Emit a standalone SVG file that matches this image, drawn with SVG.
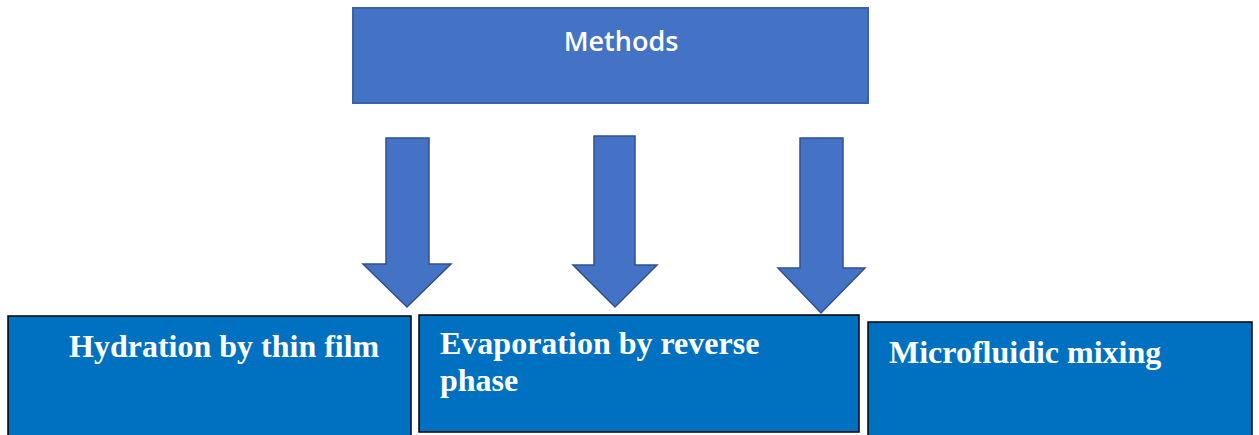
<svg xmlns="http://www.w3.org/2000/svg" width="1259" height="435" viewBox="0 0 1259 435">
  <style>
    .top { fill: #4472C4; stroke: #3A62A8; stroke-width: 2; }
    .arrow { fill: #4472C4; stroke: #2F528F; stroke-width: 1.5; stroke-linejoin: miter; }
    .box { fill: #0070C0; stroke: #000000; stroke-width: 1.5; }
    .lbl { fill: #FFFFFF; font-family: "Liberation Serif", "Times New Roman", serif; font-weight: bold; font-size: 32px; }
    .mlbl { fill: #FFFFFF; font-family: "Open Sans", "Liberation Sans", sans-serif; font-weight: 600; font-size: 27px; }
  </style>
  <rect width="1259" height="435" fill="#FFFFFF"/>
  <g id="node-methods">
    <rect class="top" x="353" y="8" width="515" height="95"/>
    <text class="mlbl" x="621" y="51" text-anchor="middle">Methods</text>
  </g>
  <g id="connectors">
    <path class="arrow" d="M386,138 H429 V264 H451 L407,307 L363,264 H386 Z"/>
    <path class="arrow" d="M594,136 H635 V265 H657 L615,307 L573,265 H594 Z"/>
    <path class="arrow" d="M800,138 H843 V268 H865 L821,313 L778,268 H800 Z"/>
  </g>
  <g id="node-hydration">
    <rect class="box" x="8" y="316" width="403" height="125"/>
    <text class="lbl" x="69" y="357">Hydration by thin film</text>
  </g>
  <g id="node-evaporation">
    <rect class="box" x="419" y="315" width="440" height="117"/>
    <text class="lbl" x="440" y="354">Evaporation by reverse</text>
    <text class="lbl" x="440" y="391">phase</text>
  </g>
  <g id="node-microfluidic">
    <rect class="box" x="868" y="322" width="384" height="120"/>
    <text class="lbl" x="889" y="363">Microfluidic mixing</text>
  </g>
</svg>
